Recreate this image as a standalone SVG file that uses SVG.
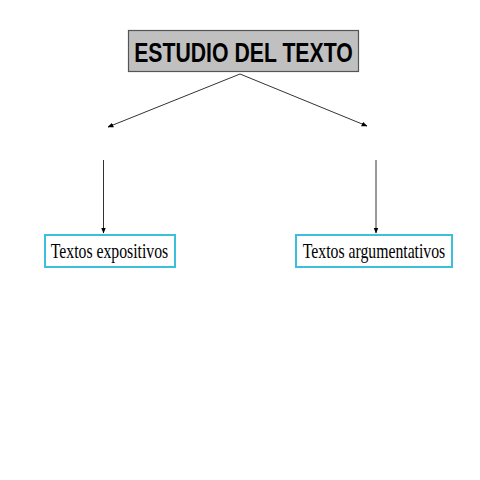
<svg xmlns="http://www.w3.org/2000/svg" width="480" height="480" viewBox="0 0 480 480">
<defs>
<style>
.title{font-family:"Liberation Sans",Arial,sans-serif;font-weight:bold;font-size:28.5px;fill:#000;text-anchor:middle}
.lbl{font-family:"Liberation Serif","Times New Roman",serif;font-size:21px;fill:#000;text-anchor:middle}
.box{fill:#fff;stroke:#3cbfdc;stroke-width:2}
.conn{stroke:#333;stroke-width:1;fill:none;marker-end:url(#ah)}
</style>
<marker id="ah" viewBox="0 0 10 10" refX="9" refY="5" markerWidth="6" markerHeight="6" orient="auto" markerUnits="userSpaceOnUse">
<path d="M0,1 L10,5 L0,9 Z" fill="#000"/>
</marker>
</defs>
<rect width="480" height="480" fill="#fff"/>
<g id="connectors">
<line class="conn" x1="240" y1="74" x2="108" y2="127"/>
<line class="conn" x1="240" y1="74" x2="367" y2="126"/>
<line class="conn" x1="103.5" y1="160" x2="103.5" y2="233"/>
<line class="conn" x1="376" y1="160" x2="376" y2="233"/>
</g>
<g id="title">
<rect x="128.5" y="30.5" width="230" height="41" fill="#c0c0c0" stroke="#555" stroke-width="1.2"/>
<text class="title" transform="scale(0.745,1)" x="326.8" y="62">ESTUDIO DEL TEXTO</text>
</g>
<g id="expositivos">
<rect class="box" x="45" y="235" width="130" height="32"/>
<text class="lbl" transform="scale(0.75,1)" x="146" y="258.5">Textos expositivos</text>
</g>
<g id="argumentativos">
<rect class="box" x="296" y="235" width="156" height="32"/>
<text class="lbl" transform="scale(0.75,1)" x="498.7" y="258.5">Textos argumentativos</text>
</g>
</svg>
